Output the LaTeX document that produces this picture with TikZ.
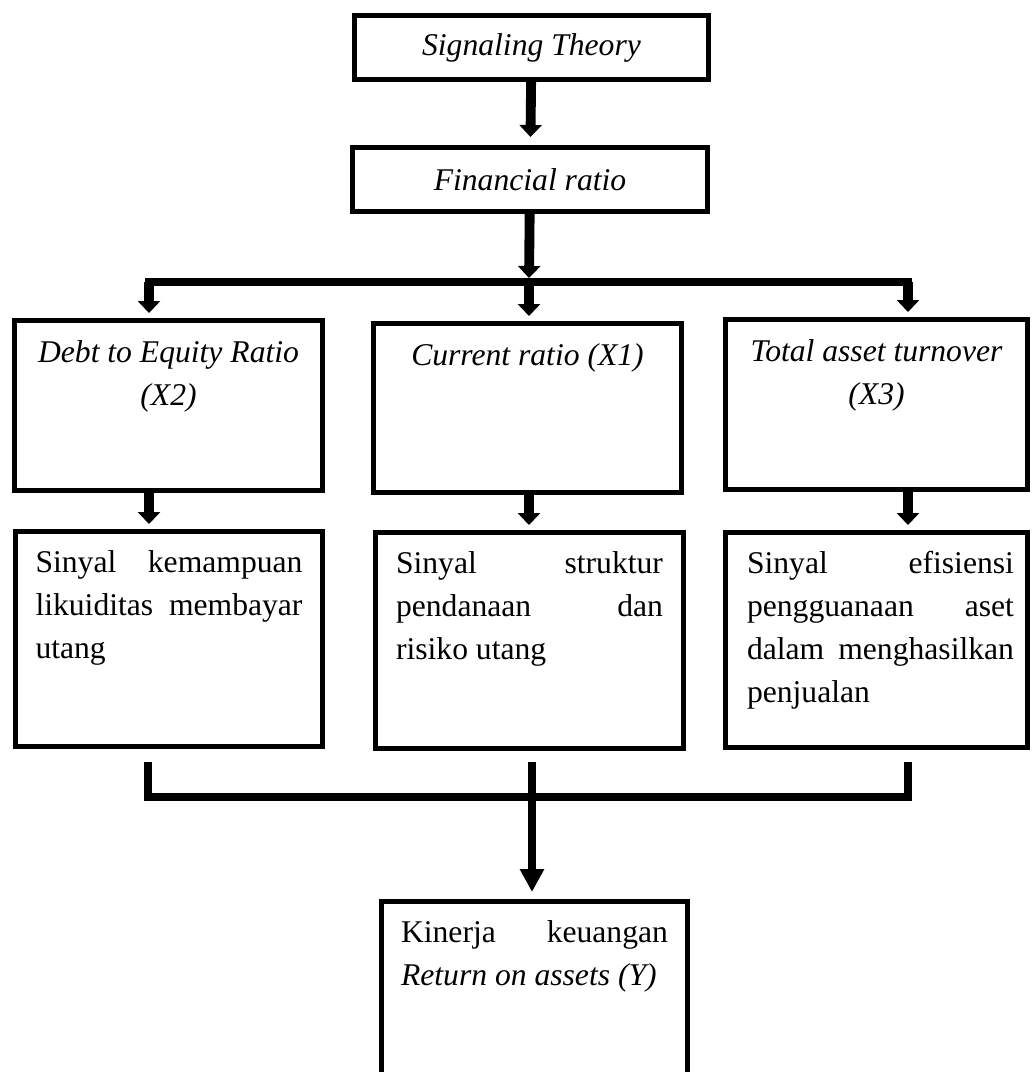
\documentclass[tikz,border=0pt]{standalone}
\usepackage{fontspec}
\setmainfont{Liberation Serif}
\usetikzlibrary{arrows.meta,positioning}

\begin{document}
\begin{tikzpicture}[x=0.02cm, y=-0.02cm,
        font=\fontsize{18}{24.4}\selectfont,
        box/.style={draw, line width=2.8pt, outer sep=0pt, inner sep=0pt,
            minimum width=6.16cm, minimum height=3.4cm},
        ttl/.style={inner sep=0pt, text width=5.9cm, align=flush center, font=\fontsize{18}{24.4}\selectfont\itshape,
            execute at begin node=\strut},
        txt/.style={inner sep=0pt, text width=5.34cm, align=flush left,
            execute at begin node=\strut},
        arr/.style={line width=5.6pt, -{Triangle[length=0.24cm, width=0.44cm]}, shorten >=0.15cm},
        bar/.style={line width=4.5pt},
        bigarr/.style={line width=4.5pt, -{Triangle[length=0.46cm, width=0.46cm]}, shorten >=0.19cm}]
        \useasboundingbox (0,0) rectangle (1032,1072);

        % Theory and ratio boxes
        \node[box, minimum width=7.08cm, minimum height=1.28cm, font=\fontsize{18}{24.4}\selectfont\itshape]
            (sig) at (531.5,47.5) {Signaling Theory};
        \node[box, minimum width=7.1cm, minimum height=1.28cm, font=\fontsize{18}{24.4}\selectfont\itshape]
            (fin) at (530,179.5) {Financial ratio};

        % Variable boxes
        \node[box] (der) at (168.5,405.5) {};
        \node[box, minimum height=3.38cm] (cr) at (527.5,408) {};
        \node[box, minimum width=6.04cm] (tat) at (876.5,404.5) {};
        \node[ttl, below=0.23cm of der.north] (dertxt) {Debt to Equity Ratio\\(X2)};
        \node[ttl, below=0.23cm of cr.north] (crtxt) {Current ratio (X1)};
        \node[ttl, below=0.23cm of tat.north] (tattxt) {Total asset turnover\\(X3)};

        % Signal boxes
        \node[box, minimum width=6.14cm, minimum height=4.3cm] (s1) at (169,639) {};
        \node[box, minimum height=4.32cm] (s2) at (529.5,640.5) {};
        \node[box, minimum width=6.04cm, minimum height=4.3cm] (s3) at (876.5,640) {};
        \node[txt, below=0.22cm of s1.north] (s1txt)
            {Sinyal\hfill kemampuan\\ likuiditas\hfill membayar\\ utang};
        \node[txt, below=0.22cm of s2.north] (s2txt)
            {Sinyal\hfill struktur\\ pendanaan\hfill dan\\ risiko utang};
        \node[txt, below=0.22cm of s3.north, xshift=0.08cm] (s3txt)
            {Sinyal\hfill efisiensi\\ pengguanaan\hfill aset\\ dalam\hfill menghasilkan\\ penjualan};

        % Performance box
        \node[box, minimum width=6.12cm, minimum height=3.9cm] (roa) at (534.5,999) {};
        \node[txt, below=0.22cm of roa.north] (roatxt)
            {Kinerja\hfill keuangan\\ \textit{Return on assets (Y)}};

        % Split from financial ratio
        \coordinate (split) at (529,282);
        \coordinate (splitl) at (149,282);
        \coordinate (splitr) at (908,282);
        \draw[arr, shorten >=0.21cm] (sig) -- (fin);
        \draw[arr, shorten >=0.08cm] (fin) -- (split);
        \draw[bar, line cap=rect] (splitl) -- (splitr);
        \draw[arr] (splitl) -- (splitl |- der.north);
        \draw[arr] (split) -- (split |- cr.north);
        \draw[arr] (splitr) -- (splitr |- tat.north);

        % Variable to signal
        \draw[arr] (splitl |- der.south) -- (splitl |- s1.north);
        \draw[arr] (split |- cr.south) -- (split |- s2.north);
        \draw[arr] (splitr |- tat.south) -- (splitr |- s3.north);

        % Merge into performance
        \coordinate (joinl) at (148,762);
        \coordinate (joinr) at (908,762);
        \coordinate (merge) at (532,797);
        \draw[bar] (joinl) |- (merge) -| (joinr);
        \draw[bigarr] (merge |- joinl) -- (merge |- roa.north);
    \end{tikzpicture}
\end{document}
